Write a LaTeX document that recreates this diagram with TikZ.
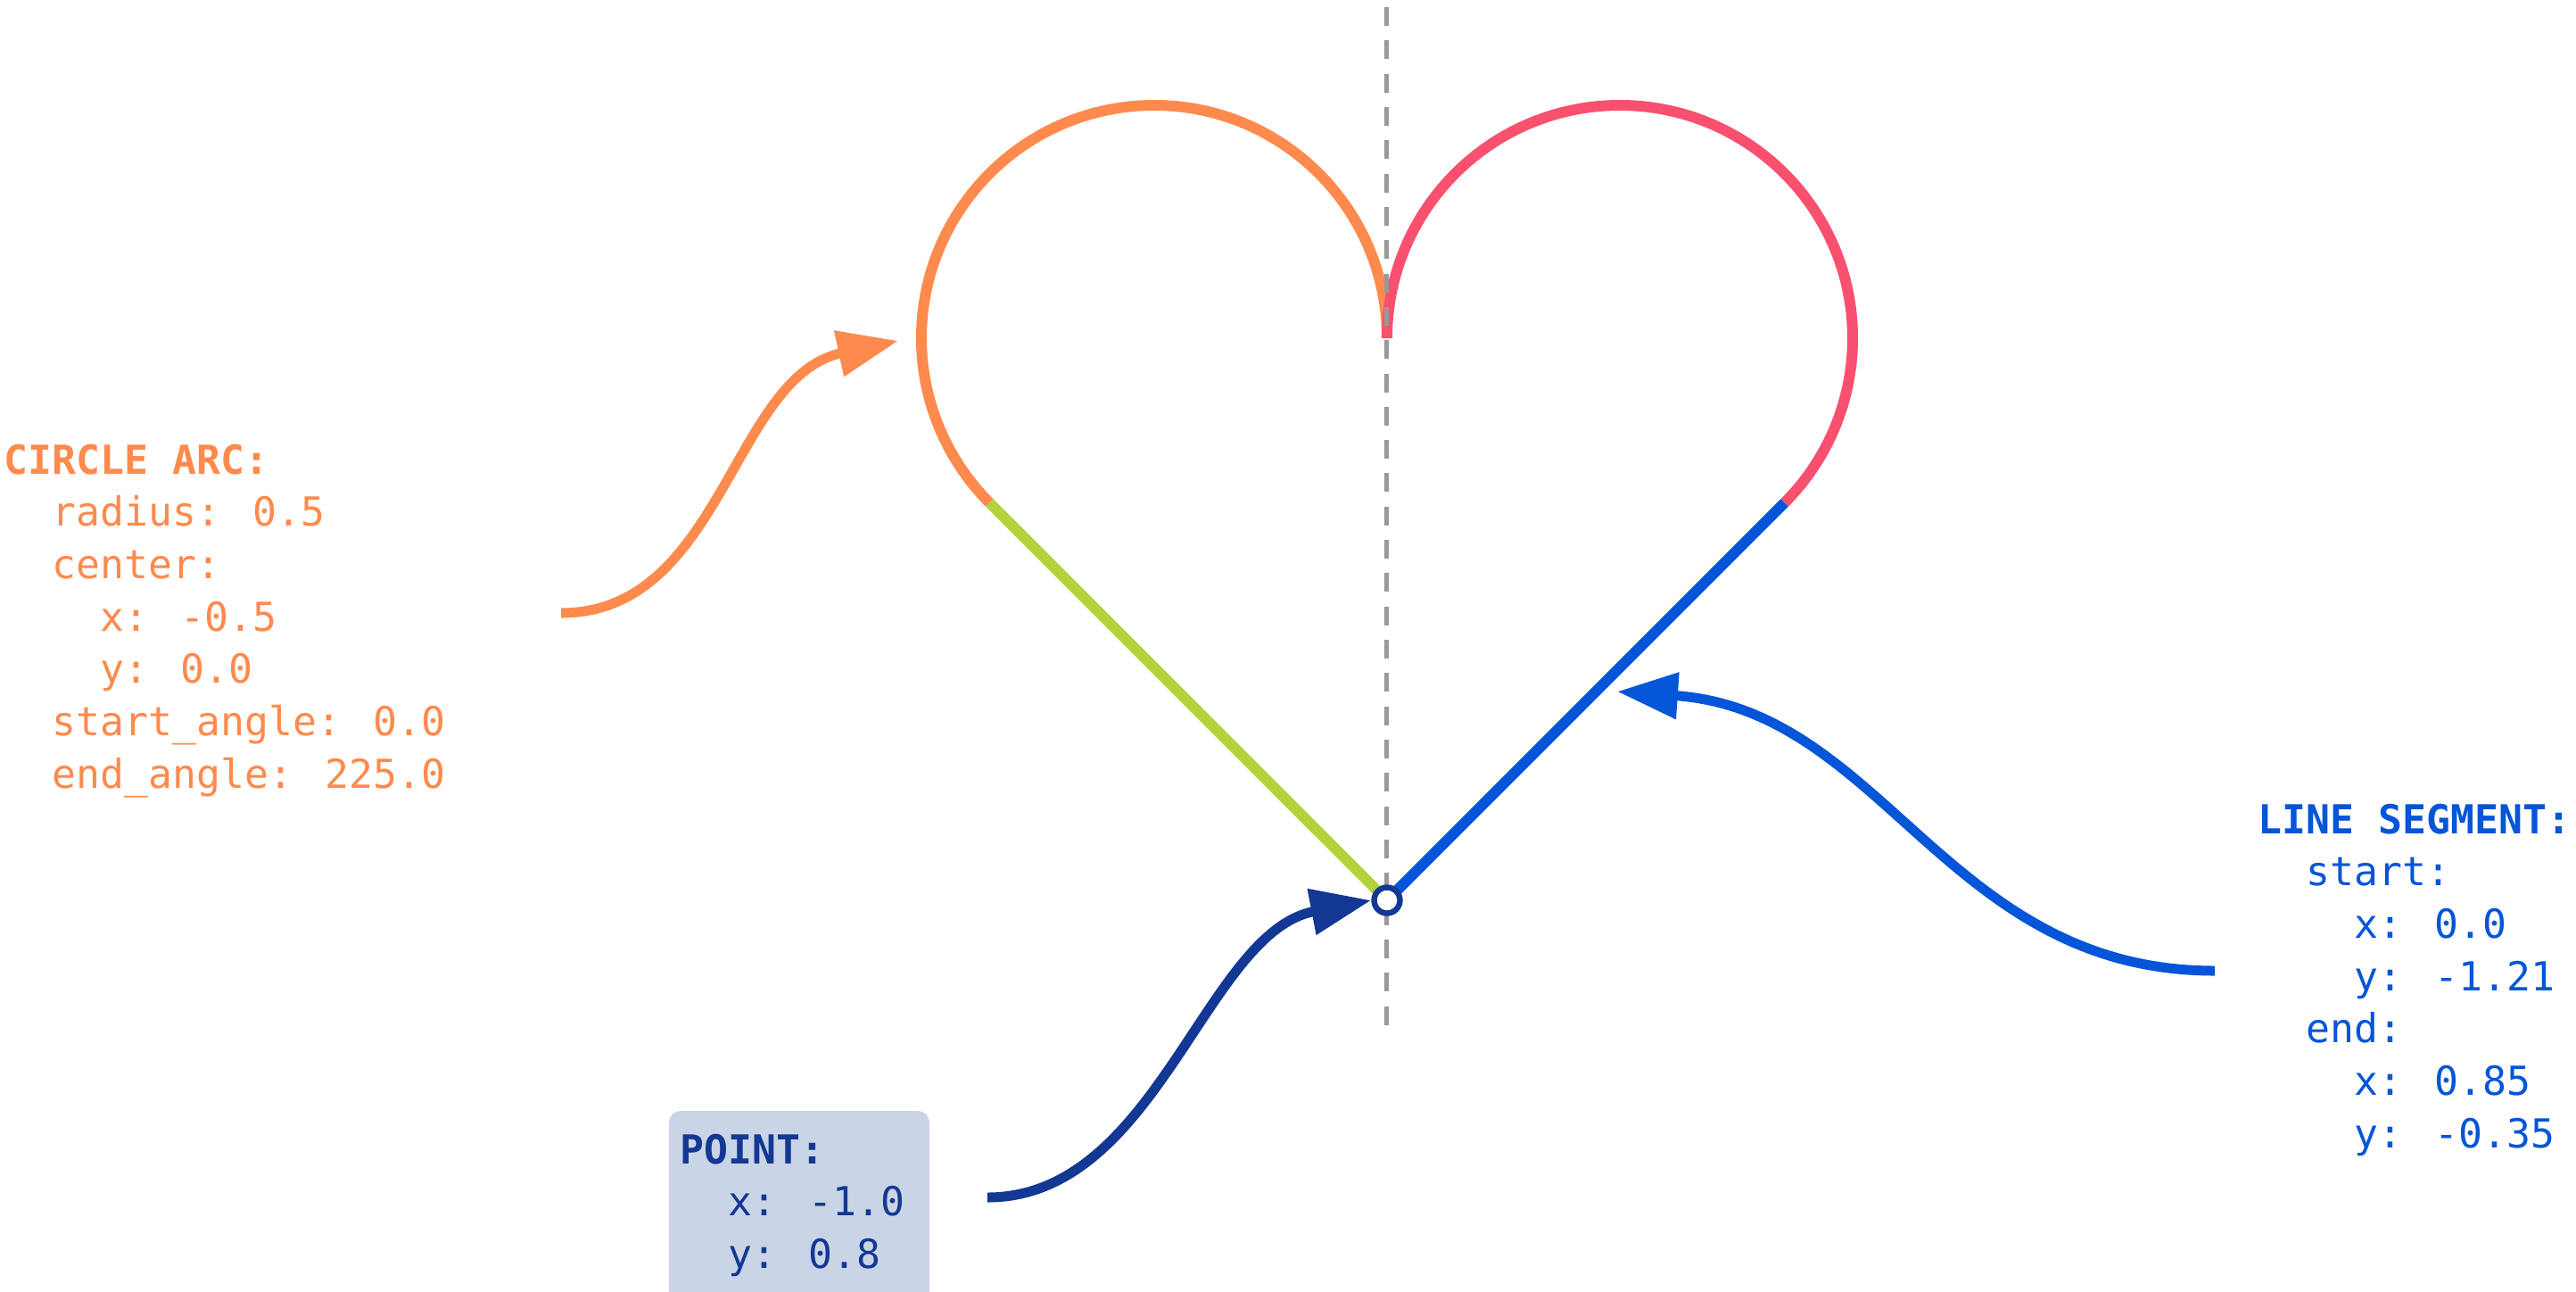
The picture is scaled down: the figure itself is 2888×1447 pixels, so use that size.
\documentclass[tikz,border=0pt]{standalone}
\usepackage{fontspec}
\newfontfamily\monof{DejaVu Sans Mono}
\usetikzlibrary{arrows.meta}
\definecolor{arcC}{HTML}{FF8A4D}
\definecolor{pinkC}{HTML}{F9506E}
\definecolor{greenC}{HTML}{B3D33B}
\definecolor{lineC}{HTML}{0455D8}
\definecolor{ptC}{HTML}{133894}
\definecolor{boxC}{HTML}{CAD4E7}
\definecolor{axisC}{HTML}{999999}
\begin{document}
\begin{tikzpicture}[x=0.25pt,y=0.25pt,
  lbl/.style={anchor=north west, inner sep=0pt, align=left, font=\monof\fontsize{11.2pt}{14.67pt}\selectfont},
  heart/.style={line width=3pt},
  conn/.style={line width=2.75pt, -{Triangle[length=17pt,width=12.5pt]}},
  axisline/.style={axisC, line width=1.25pt, dash pattern=on 5.25pt off 4.08pt},
  ptnode/.style={circle, draw=ptC, fill=white, line width=1.6pt, minimum size=7.25pt, inner sep=0pt}]
\useasboundingbox (0,0) rectangle (2888,-1447);

% labels
\fill[boxC, rounded corners=3.25pt] (750,-1245) rectangle (1042,-1462);
\node[lbl, text=arcC] (arcLbl) at (4,-497) {\textbf{CIRCLE ARC:}\\
\hphantom{00}radius: 0.5\\
\hphantom{00}center:\\
\hphantom{0000}x: -0.5\\
\hphantom{0000}y: 0.0\\
\hphantom{00}start\_angle: 0.0\\
\hphantom{00}end\_angle: 225.0};
\node[lbl, text=lineC] (lineLbl) at (2531,-900) {\textbf{LINE SEGMENT:}\\
\hphantom{00}start:\\
\hphantom{0000}x: 0.0\\
\hphantom{0000}y: -1.21\\
\hphantom{00}end:\\
\hphantom{0000}x: 0.85\\
\hphantom{0000}y: -0.35};
\node[lbl, text=ptC] (ptLbl) at (762,-1270) {\textbf{POINT:}\\
\hphantom{00}x: -1.0\\
\hphantom{00}y: 0.8};

% heart
\coordinate (top) at (1555,-379);
\coordinate (ptpos) at (1555,-1009);
\draw[heart, arcC] (top) arc[start angle=0, end angle=225, radius=261] coordinate (arcEnd);
\draw[heart, greenC] (arcEnd) -- (ptpos);
\draw[heart, pinkC] (top) arc[start angle=180, end angle=-45, radius=261] coordinate (pinkEnd);
\draw[heart, lineC] (ptpos) -- (pinkEnd);

% axis
\coordinate (axTop) at (1554,-8);
\coordinate (axBot) at (1554,-1149);
\draw[axisline] (axTop) -- (axBot);

% point
\node[ptnode] (pt) at (ptpos) {};

% connectors
\coordinate (arcSrc) at (629,-687);
\coordinate (arcTip) at (1007,-382);
\draw[conn, arcC] (arcSrc) .. controls +(180,0) and +(-186,-40) .. (arcTip);
\coordinate (lineSrc) at (2483,-1088);
\coordinate (lineTip) at (1813,-775);
\draw[conn, lineC] (lineSrc) .. controls +(-300,0) and +(299,-21) .. (lineTip);
\coordinate (ptSrc) at (1107,-1342);
\draw[conn, ptC] (ptSrc) .. controls +(190,0) and +(-186,-36) .. (pt.west);
\end{tikzpicture}
\end{document}
